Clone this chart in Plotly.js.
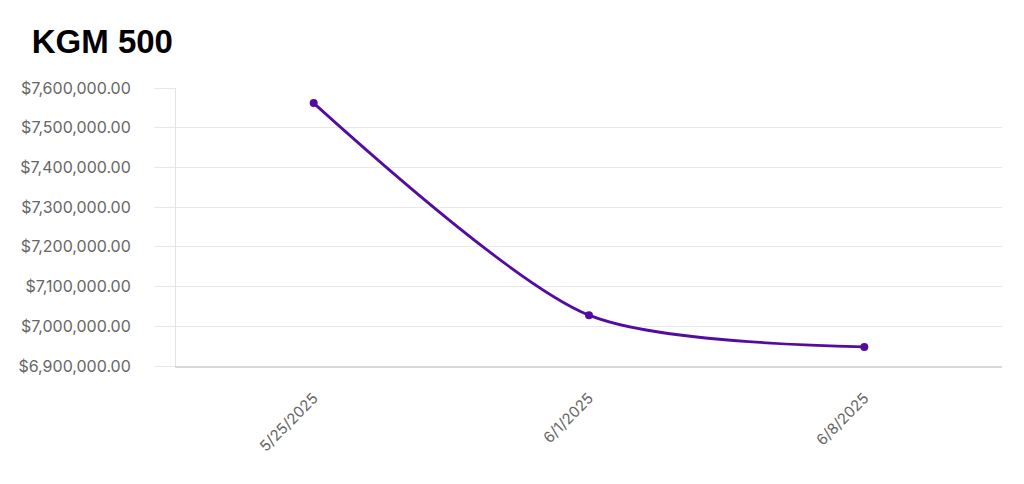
<!DOCTYPE html>
<html>
<head>
<meta charset="utf-8">
<script src="https://cdn.plot.ly/plotly-3.0.1.min.js"></script>
<style>html,body{margin:0;padding:0;background:#fff;}#chart{width:1024px;height:484px;}</style>
</head>
<body>
<div id="chart"></div>
<script>
const dates = ["5/25/2025", "6/1/2025", "6/8/2025"];
const values = [7562000, 7028000, 6948000];
const chartTitle = "KGM 500";

const trace = {
  x: dates,
  y: values,
  type: "scatter",
  mode: "lines+markers",
  line: {color: "#530c9f", width: 2.8, shape: "spline", smoothing: 0.75},
  marker: {color: "#530c9f", size: 8},
  hoverinfo: "x+y"
};

const layout = {
  width: 1024,
  height: 484,
  margin: {l: 176, r: 22, t: 88, b: 118},
  paper_bgcolor: "#ffffff",
  plot_bgcolor: "#ffffff",
  showlegend: false,
  title: {
    text: "<b>" + chartTitle + "</b>",
    font: {family: "Liberation Sans, Arial, sans-serif", size: 33, color: "#000"},
    xref: "container", yref: "container",
    x: 0.031, xanchor: "left",
    y: 0.915, yanchor: "middle"
  },
  xaxis: {
    type: "category",
    range: [-0.5, 2.5],
    showgrid: false,
    zeroline: false,
    showline: true,
    linecolor: "#d9d9d9",
    linewidth: 1.5,
    ticks: "",
    tickangle: -45,
    tickfont: {family: "Inter, sans-serif", size: 15, color: "#666"},
    ticklabelstandoff: 16,
    fixedrange: true
  },
  yaxis: {
    range: [6900000, 7600000],
    dtick: 100000,
    tick0: 6900000,
    tickformat: "$,.2f",
    showgrid: true,
    gridcolor: "#e8e8e8",
    gridwidth: 1,
    zeroline: false,
    showline: true,
    linecolor: "#e4e4e4",
    linewidth: 1,
    ticks: "outside",
    ticklen: 21,
    tickcolor: "#e8e8e8",
    tickfont: {family: "Inter, sans-serif", size: 16, color: "#666"},
    ticklabelstandoff: 20,
    fixedrange: true
  }
};

Plotly.newPlot("chart", [trace], layout, {displayModeBar: false, staticPlot: true});
</script>
</body>
</html>
